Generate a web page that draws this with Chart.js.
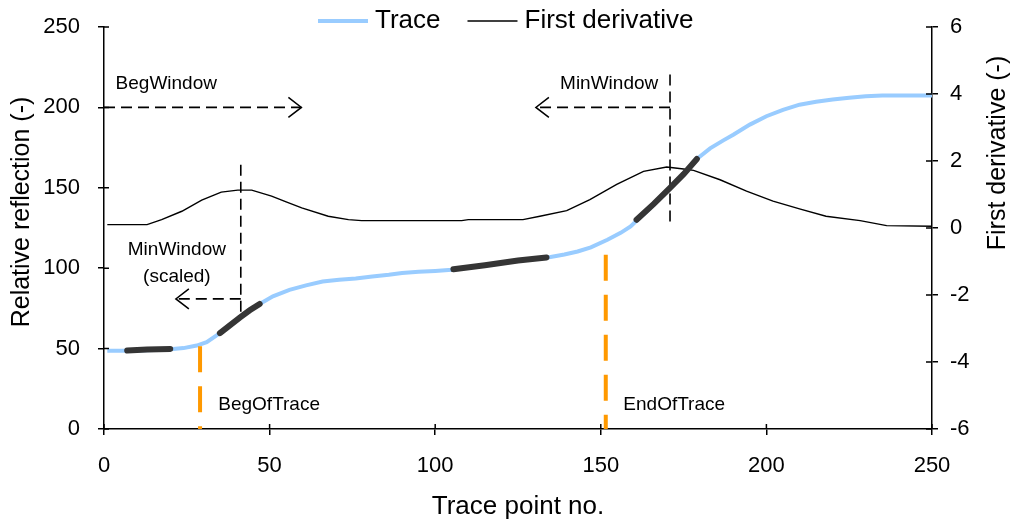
<!DOCTYPE html>
<html lang="en">
<head>
<meta charset="UTF-8">
<title>Trace and first derivative</title>
<script src="https://cdn.jsdelivr.net/npm/chart.js@4.4.1/dist/chart.umd.min.js"></script>
<style>
  body { margin: 0; background: #fff; }
  #wrap { width: 1011px; height: 522px; }
</style>
</head>
<body>
<div id="wrap"><canvas id="traceChart"></canvas></div>
<script>
// trace, left axis
const traceX = [1, 5, 10, 15, 20, 24, 28, 31, 35, 38, 41, 44, 47, 51, 56, 61, 66, 71, 76, 81, 86, 90, 95, 100,
  105, 110, 115, 120, 125, 130, 134, 139, 143, 147, 152, 156, 159, 161, 164, 167, 171, 175, 179, 183, 187,
  190, 195, 200, 205, 210, 215, 220, 225, 230, 235, 240, 245, 250];
const traceY = [48.6, 48.6, 48.8, 49.2, 49.6, 50.3, 51.9, 54, 59.6, 64.5, 69.3, 73.8, 77.8, 82.5, 86.5, 89.3,
  91.7, 92.8, 93.6, 94.8, 95.9, 97, 97.8, 98.3, 99, 100.5, 101.8, 103.3, 104.8, 105.9, 106.7, 108.5, 110.4,
  113, 117.7, 122, 126, 130, 135.5, 142, 149.9, 158.5, 167.9, 174.5, 179.5, 183, 189.3, 194.5, 198.5, 201.7,
  203.5, 204.9, 206, 207, 207.4, 207.4, 207.4, 207.4];

// first derivative, right axis
const derivX = [1, 13, 17.4, 23.5, 29.5, 35.4, 40.4, 44.6, 50.6, 55, 59.7, 67.7, 73.8, 77.8, 108, 110, 126.5,
  131.6, 139.7, 146.7, 154.8, 162.9, 169.9, 175, 178, 186, 194, 202, 210, 218, 228.3, 236.3, 250];
const derivY = [0.1, 0.1, 0.25, 0.5, 0.83, 1.07, 1.13, 1.13, 0.95, 0.78, 0.6, 0.35, 0.25, 0.22, 0.22, 0.25,
  0.25, 0.35, 0.52, 0.85, 1.3, 1.69, 1.82, 1.76, 1.72, 1.44, 1.1, 0.8, 0.57, 0.35, 0.22, 0.07, 0.05];

// thick pieces on the trace
const segBegX = [7, 13, 20];
const segBegY = [48.8, 49.5, 49.8];
const segMinScaledX = [35, 38, 41, 44, 47];
const segMinScaledY = [59.6, 64.5, 69.3, 73.8, 77.8];
const segMidX = [105.5, 115, 125, 133.6];
const segMidY = [99.3, 101.8, 104.8, 106.7];
const segMinX = [160.8, 166, 170.9, 175, 179];
const segMinY = [130.1, 140, 149.9, 158.5, 167.9];

// orange markers (x, top of line)
const begOfTraceX = [29, 29];
const begOfTraceY = [51.5, 0];
const endOfTraceX = [151.5, 151.5];
const endOfTraceY = [108.3, 0];

// dashed window lines
const begWinX = [0, 59.6];
const begWinY = [200, 200];
const minScaledVX = [41.3, 41.3];
const minScaledVY = [164.4, 69.9];
const minScaledHX = [41.3, 21.7];
const minScaledHY = [80.9, 80.9];
const minWinVX = [170.9, 170.9];
const minWinVY = [220.4, 127.6];
const minWinHX = [170.9, 130.4];
const minWinHY = [200, 200];

// axis ticks
const xTicks = [0, 50, 100, 150, 200, 250];
const yTicks = [0, 50, 100, 150, 200, 250];
const y1Ticks = [-6, -4, -2, 0, 2, 4, 6];

// annotation texts: [text, x, y, align]
const notes = [
  ['BegWindow', 3.5, 215, 'left'],
  ['MinWindow', 137.7, 215, 'left'],
  ['MinWindow', 22, 111.5, 'center'],
  ['(scaled)', 22, 94.8, 'center'],
  ['BegOfTrace', 34.5, 14.9, 'left'],
  ['EndOfTrace', 156.8, 14.9, 'left']
];

const FONT = "'Liberation Sans', Arial, sans-serif";
const pts = (xs, ys) => xs.map((v, i) => ({ x: v, y: ys[i] }));

function thick(xs, ys) {
  return { data: pts(xs, ys), yAxisID: 'y', borderColor: '#353535', borderWidth: 6,
    borderCapStyle: 'round', order: 1 };
}
function orange(xs, ys) {
  return { data: pts(xs, ys), yAxisID: 'y', borderColor: '#ff9900', borderWidth: 4,
    borderDash: [26, 14], order: 3 };
}
function dashed(xs, ys, arrow) {
  return { data: pts(xs, ys), yAxisID: 'y', borderColor: '#000', borderWidth: 1.6,
    borderDash: [11, 6], order: 2, arrow: arrow };
}

const decor = {
  id: 'decor',
  afterDatasetsDraw(chart) {
    const { ctx, chartArea: ca } = chart;
    const { x, y, y1 } = chart.scales;
    ctx.save();
    ctx.strokeStyle = '#000';
    ctx.lineWidth = 1.5;
    // inner half of tick marks
    ctx.beginPath();
    xTicks.forEach(v => { const p = x.getPixelForValue(v); ctx.moveTo(p, ca.bottom); ctx.lineTo(p, ca.bottom - 5); });
    yTicks.forEach(v => { const p = y.getPixelForValue(v); ctx.moveTo(ca.left, p); ctx.lineTo(ca.left + 5, p); });
    y1Ticks.forEach(v => { const p = y1.getPixelForValue(v); ctx.moveTo(ca.right, p); ctx.lineTo(ca.right - 6, p); });
    ctx.stroke();

    // arrow heads at the end of the window lines
    chart.data.datasets.forEach(ds => {
      if (!ds.arrow) return;
      const a = ds.data[ds.data.length - 2], b = ds.data[ds.data.length - 1];
      const px = x.getPixelForValue(b.x), py = y.getPixelForValue(b.y);
      const dir = Math.sign(b.x - a.x);
      ctx.beginPath();
      ctx.moveTo(px - dir * 13, py - 10);
      ctx.lineTo(px, py);
      ctx.lineTo(px - dir * 13, py + 10);
      ctx.stroke();
    });

    // annotation texts
    ctx.fillStyle = '#000';
    ctx.font = '19px ' + FONT;
    ctx.textBaseline = 'middle';
    notes.forEach(n => {
      ctx.textAlign = n[3];
      ctx.fillText(n[0], x.getPixelForValue(n[1]), y.getPixelForValue(n[2]));
    });

    // axis titles for the two value axes
    ctx.font = '25px ' + FONT;
    ctx.textAlign = 'center';
    ctx.save();
    ctx.translate(22, 212);
    ctx.rotate(-Math.PI / 2);
    ctx.fillText('Relative reflection (-)', 0, 0);
    ctx.restore();
    ctx.save();
    ctx.translate(998, 153);
    ctx.rotate(-Math.PI / 2);
    ctx.fillText('First derivative (-)', 0, 0);
    ctx.restore();

    // legend
    ctx.font = '26px ' + FONT;
    ctx.textAlign = 'left';
    const items = chart.data.datasets.filter(d => d.label);
    let lx = 318;
    items.forEach(d => {
      ctx.strokeStyle = d.borderColor;
      ctx.lineWidth = d.borderWidth;
      ctx.beginPath();
      ctx.moveTo(lx, 21);
      ctx.lineTo(lx + 50, 21);
      ctx.stroke();
      ctx.fillText(d.label, lx + 57, 21);
      lx += 57 + ctx.measureText(d.label).width + 27;
    });
    ctx.restore();
  }
};

const axisLine = { color: '#000', width: 1.5 };
const gridOpts = { drawOnChartArea: false, drawTicks: true, tickLength: 6, color: '#000', lineWidth: 1.5 };
const tickFont = { family: FONT, size: 22 };

new Chart(document.getElementById('traceChart'), {
  type: 'line',
  data: {
    datasets: [
      { label: 'Trace', data: pts(traceX, traceY), yAxisID: 'y', borderColor: '#99ccff', borderWidth: 4, order: 4 },
      { label: 'First derivative', data: pts(derivX, derivY), yAxisID: 'y1', borderColor: '#000', borderWidth: 1.4, order: 5 },
      thick(segBegX, segBegY),
      thick(segMinScaledX, segMinScaledY),
      thick(segMidX, segMidY),
      thick(segMinX, segMinY),
      orange(begOfTraceX, begOfTraceY),
      orange(endOfTraceX, endOfTraceY),
      dashed(begWinX, begWinY, true),
      dashed(minScaledVX, minScaledVY, false),
      dashed(minScaledHX, minScaledHY, true),
      dashed(minWinVX, minWinVY, false),
      dashed(minWinHX, minWinHY, true)
    ]
  },
  options: {
    responsive: true,
    maintainAspectRatio: false,
    animation: false,
    events: [],
    layout: { padding: { top: 27, right: 0, bottom: 0, left: 0 } },
    elements: { point: { radius: 0 }, line: { tension: 0, fill: false } },
    plugins: { legend: { display: false }, tooltip: { enabled: false } },
    scales: {
      x: {
        type: 'linear', min: 0, max: 250,
        afterBuildTicks: s => { s.ticks = xTicks.map(v => ({ value: v })); },
        afterFit: s => { s.height = 93; s.paddingLeft = 0; s.paddingRight = 0; },
        border: axisLine, grid: gridOpts,
        ticks: { font: tickFont, color: '#000', padding: 18, maxRotation: 0 },
        title: { display: true, text: 'Trace point no.', font: { family: FONT, size: 26 }, color: '#000',
          padding: { top: 0, bottom: 0 } }
      },
      y: {
        position: 'left', min: 0, max: 250,
        afterBuildTicks: s => { s.ticks = yTicks.map(v => ({ value: v })); },
        afterFit: s => { s.width = 104; s.paddingTop = 0; s.paddingBottom = 0; },
        border: axisLine, grid: gridOpts,
        ticks: { font: tickFont, color: '#000', padding: 18 }
      },
      y1: {
        position: 'right', min: -6, max: 6,
        afterBuildTicks: s => { s.ticks = y1Ticks.map(v => ({ value: v })); },
        afterFit: s => { s.width = 79; s.paddingTop = 0; s.paddingBottom = 0; },
        border: axisLine, grid: gridOpts,
        ticks: { font: tickFont, color: '#000', padding: 12 }
      }
    }
  },
  plugins: [decor]
});
</script>
</body>
</html>
